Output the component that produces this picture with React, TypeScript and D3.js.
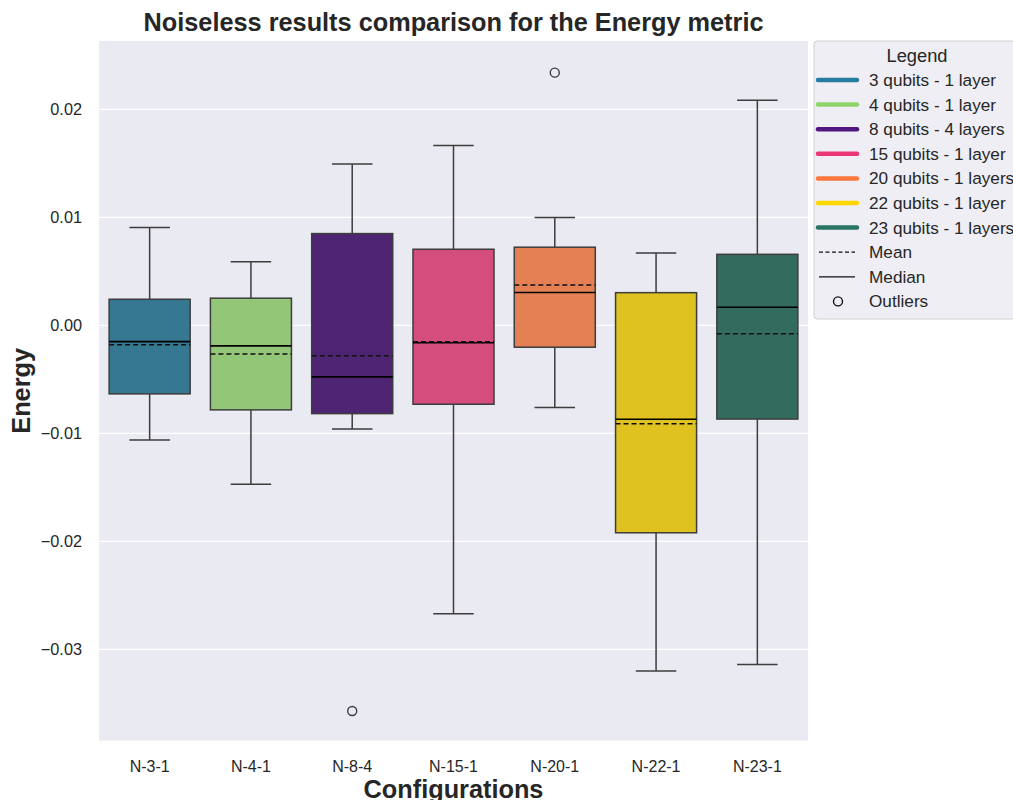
import React from "react";
import * as d3 from "d3";

const categories = ["N-3-1", "N-4-1", "N-8-4", "N-15-1", "N-20-1", "N-22-1", "N-23-1"];
const legendLabels = [
  "3 qubits - 1 layer",
  "4 qubits - 1 layer",
  "8 qubits - 4 layers",
  "15 qubits - 1 layer",
  "20 qubits - 1 layers",
  "22 qubits - 1 layer",
  "23 qubits - 1 layers",
];
const palette = ["#277da1", "#8fd36a", "#501780", "#eb3676", "#fc773c", "#ffd700", "#2a7463"];
const whiskerLow = [-0.0106, -0.0147, -0.0096, -0.0267, -0.0076, -0.032, -0.0314];
const q1 = [-0.00634, -0.00782, -0.00817, -0.0073, -0.00202, -0.0192, -0.00867];
const medians = [-0.0015, -0.0019, -0.00477, -0.0016, 0.00304, -0.00869, 0.00168];
const means = [-0.0018, -0.00264, -0.0028, -0.00151, 0.00375, -0.0091, -0.00077];
const q3 = [0.00242, 0.00252, 0.0085, 0.00705, 0.00724, 0.00303, 0.00658];
const whiskerHigh = [0.00906, 0.0059, 0.01495, 0.01665, 0.00998, 0.0067, 0.02084];
const outliers = [[], [], [-0.0357], [], [0.0234], [], []];
const yTicks = [0.02, 0.01, 0.0, -0.01, -0.02, -0.03];

const W = 1013;
const H = 800;
const left = 99;
const right = 808;
const top = 41;
const bottom = 740.7;
const font = "'Liberation Sans', Arial, sans-serif";
const lineGray = "#3d3d3d";

function desat(c: string) {
  const h = d3.hsl(c);
  h.s = h.s * 0.75;
  return h.formatHex();
}

export default function App() {
  const x = d3.scaleBand<string>().domain(categories).range([left, right]).padding(0);
  const y = d3.scaleLinear().domain([-0.03845, 0.02633]).range([bottom, top]);
  const bw = x.bandwidth();
  const boxW = bw * 0.8;
  const capW = boxW * 0.5;
  const fmt = (v: number) => (v < 0 ? "\u2212" : "") + Math.abs(v).toFixed(2);

  const legendY0 = 80;
  const legendStep = 24.6;
  const lfs = 17.2;

  return (
    <svg width={W} height={H} style={{ position: "absolute", left: 0, top: 0, background: "#fff" }}>
      <rect x={left} y={top} width={right - left} height={bottom - top} fill="#eaeaf2" />
      {yTicks.map((t) => (
        <g key={t}>
          <line x1={left} x2={right} y1={y(t)} y2={y(t)} stroke="#fff" strokeWidth={1.3} />
          <text x={82} y={y(t)} dy="0.35em" textAnchor="end" fontSize={16.3} fontFamily={font} fill="#262626">
            {fmt(t)}
          </text>
        </g>
      ))}
      {categories.map((c, i) => {
        const cx = x(c)! + bw / 2;
        const x0 = cx - boxW / 2;
        return (
          <g key={c}>
            <line x1={cx} x2={cx} y1={y(q3[i])} y2={y(whiskerHigh[i])} stroke={lineGray} strokeWidth={1.5} />
            <line x1={cx} x2={cx} y1={y(q1[i])} y2={y(whiskerLow[i])} stroke={lineGray} strokeWidth={1.5} />
            <line x1={cx - capW / 2} x2={cx + capW / 2} y1={y(whiskerHigh[i])} y2={y(whiskerHigh[i])} stroke={lineGray} strokeWidth={1.5} />
            <line x1={cx - capW / 2} x2={cx + capW / 2} y1={y(whiskerLow[i])} y2={y(whiskerLow[i])} stroke={lineGray} strokeWidth={1.5} />
            <rect x={x0} y={y(q3[i])} width={boxW} height={y(q1[i]) - y(q3[i])} fill={desat(palette[i])} stroke={lineGray} strokeWidth={1.5} />
            <line x1={x0} x2={x0 + boxW} y1={y(means[i])} y2={y(means[i])} stroke="#111" strokeWidth={1.5} strokeDasharray="5,3" />
            <line x1={x0} x2={x0 + boxW} y1={y(medians[i])} y2={y(medians[i])} stroke="#000" strokeWidth={1.6} />
            {outliers[i].map((o, j) => (
              <circle key={j} cx={cx} cy={y(o)} r={4.5} fill="none" stroke={lineGray} strokeWidth={1.4} />
            ))}
            <text x={cx} y={771.5} textAnchor="middle" fontSize={16} fontFamily={font} fill="#262626">
              {c}
            </text>
          </g>
        );
      })}
      <text x={(left + right) / 2} y={30.5} textAnchor="middle" fontSize={25.3} fontWeight="bold" fontFamily={font} fill="#262626">
        Noiseless results comparison for the Energy metric
      </text>
      <text x={(left + right) / 2} y={797.5} textAnchor="middle" fontSize={25.3} fontWeight="bold" fontFamily={font} fill="#262626">
        Configurations
      </text>
      <text
        transform={`translate(29.5,${(top + bottom) / 2}) rotate(-90)`}
        textAnchor="middle"
        fontSize={25.3}
        fontWeight="bold"
        fontFamily={font}
        fill="#262626"
      >
        Energy
      </text>
      <g>
        <rect x={814} y={41} width={220} height={278} rx={3} fill="#eeeef4" stroke="#d0d0d0" strokeWidth={1} />
        <text x={917} y={56} dy="0.35em" textAnchor="middle" fontSize={18.3} fontFamily={font} fill="#262626">
          Legend
        </text>
        {legendLabels.map((l, i) => {
          const ly = legendY0 + i * legendStep;
          return (
            <g key={l}>
              <line x1={818} x2={857} y1={ly} y2={ly} stroke={palette[i]} strokeWidth={4.5} strokeLinecap="round" />
              <text x={869} y={ly} dy="0.35em" fontSize={lfs} fontFamily={font} fill="#262626">
                {l}
              </text>
            </g>
          );
        })}
        <line x1={819} x2={855} y1={legendY0 + 7 * legendStep} y2={legendY0 + 7 * legendStep} stroke="#111" strokeWidth={1.3} strokeDasharray="4,2.5" />
        <text x={869} y={legendY0 + 7 * legendStep} dy="0.35em" fontSize={lfs} fontFamily={font} fill="#262626">Mean</text>
        <line x1={819} x2={855} y1={legendY0 + 8 * legendStep} y2={legendY0 + 8 * legendStep} stroke="#111" strokeWidth={1.3} />
        <text x={869} y={legendY0 + 8 * legendStep} dy="0.35em" fontSize={lfs} fontFamily={font} fill="#262626">Median</text>
        <circle cx={838} cy={legendY0 + 9 * legendStep} r={4.5} fill="none" stroke="#111" strokeWidth={1.4} />
        <text x={869} y={legendY0 + 9 * legendStep} dy="0.35em" fontSize={lfs} fontFamily={font} fill="#262626">Outliers</text>
      </g>
    </svg>
  );
}
